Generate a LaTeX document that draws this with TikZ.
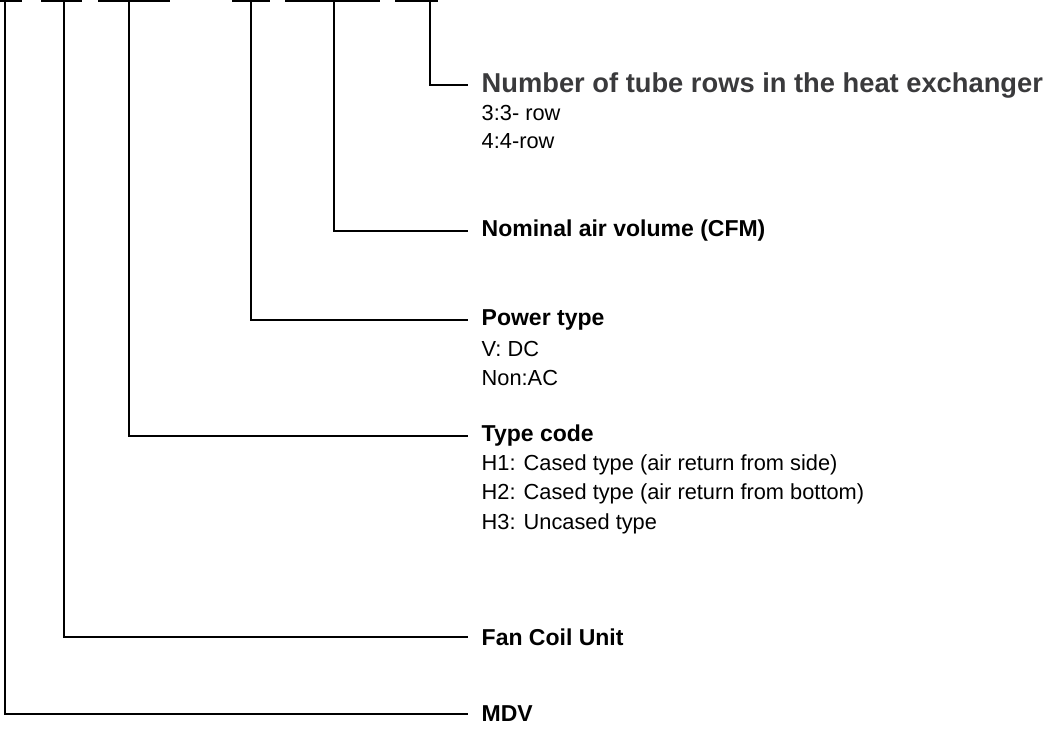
\documentclass[tikz,border=0pt]{standalone}
\usepackage{fontspec}
\setmainfont{Liberation Sans}
\definecolor{headgray}{HTML}{3A3A3C}
\begin{document}
\begin{tikzpicture}[x=1pt, y=-1pt, line width=1.4pt,
	every node/.style={anchor=west, inner xsep=13pt, inner ysep=0pt, font=\fontsize{21.8}{26}\selectfont},
	head/.style={font=\fontsize{23}{26}\selectfont\bfseries},
	tubehead/.style={font=\fontsize{27.3}{30}\selectfont\bfseries, text=headgray}]

	\useasboundingbox (0,0) rectangle (1049,729);

	% segments of the model code
	\foreach \a/\b in {0/22, 41/82, 98/170, 232/270, 285/380, 395/438}
		\draw (\a,1) -- (\b,1);
	\coordinate (c1) at (5,1);
	\coordinate (c2) at (64,1);
	\coordinate (c3) at (129,1);
	\coordinate (c4) at (251,1);
	\coordinate (c5) at (334,1);
	\coordinate (c6) at (430,1);

	% labels
	\node[tubehead] (rows) at (468,85) {Number of tube rows in the heat exchanger};
	\node (rows3) at (468,113) {3:3- row};
	\node (rows4) at (468,141) {4:4-row};
	\node[head] (cfm) at (468,231) {Nominal air volume (CFM)};
	\node[head] (power) at (468,320) {Power type};
	\node (dc) at (468,349) {V: DC};
	\node (ac) at (468,378) {Non:AC};
	\node[head] (type) at (468,436) {Type code};
	\node (h1) at (468,465) {H1: Cased type (air return from side)};
	\node (h2) at (468,494) {H2: Cased type (air return from bottom)};
	\node (h3) at (468,524) {H3: Uncased type};
	\node[head] (fcu) at (468,637) {Fan Coil Unit};
	\node[head] (mdv) at (468,714) {MDV};

	\draw (c1) |- (mdv.west);
	\draw (c2) |- (fcu.west);
	\draw (c3) |- (type.west);
	\draw (c4) |- (power.west);
	\draw (c5) |- (cfm.west);
	\draw (c6) |- (rows.west);
\end{tikzpicture}
\end{document}
